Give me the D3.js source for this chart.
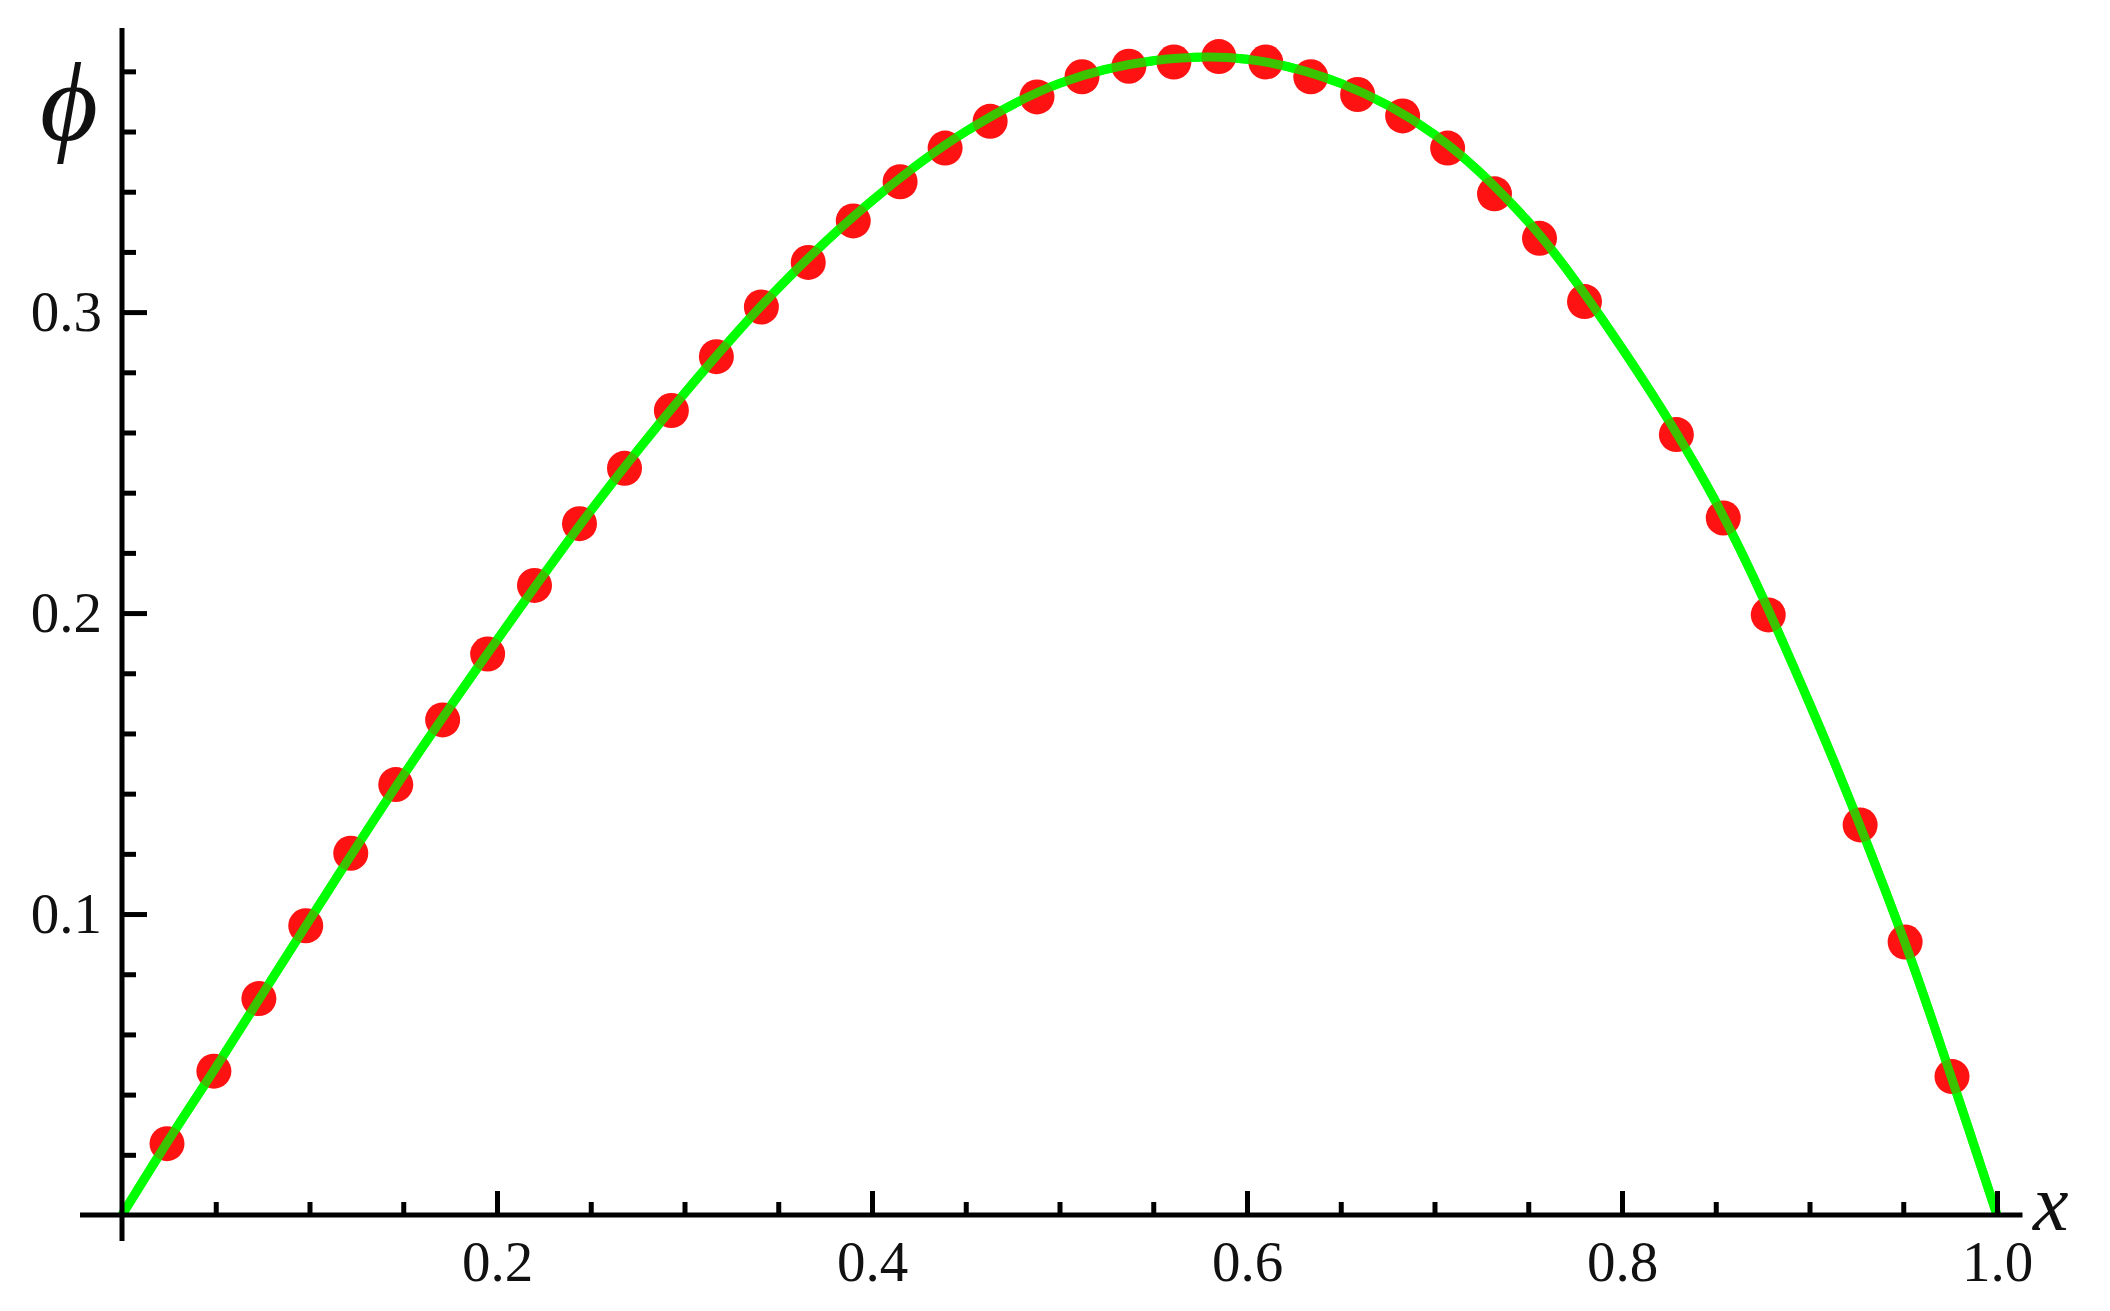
<!DOCTYPE html>
<html>
<head>
<meta charset="utf-8">
<script src="https://cdn.jsdelivr.net/npm/d3@7"></script>
<style>
  html, body { margin: 0; padding: 0; background: #fff; }
  .tick text { font-family: "Liberation Serif", "DejaVu Serif", serif; }
</style>
</head>
<body>
<svg class="chart"></svg>
<script>
// sampled values (red dots)
var pointX = [0.024, 0.049, 0.073, 0.098, 0.122, 0.146, 0.171, 0.195, 0.220, 0.244,
  0.268, 0.293, 0.317, 0.341, 0.366, 0.390, 0.415, 0.439, 0.463, 0.488,
  0.512, 0.537, 0.561, 0.585, 0.610, 0.634, 0.659, 0.683, 0.707, 0.732,
  0.756, 0.780, 0.829, 0.854, 0.878, 0.927, 0.951, 0.976];
var pointY = [0.0237, 0.0478, 0.0719, 0.0961, 0.1202, 0.1430, 0.1645, 0.1864, 0.2092, 0.2297,
  0.2481, 0.2673, 0.2852, 0.3017, 0.3165, 0.3303, 0.3433, 0.3545, 0.3634, 0.3715,
  0.3782, 0.3817, 0.3831, 0.3849, 0.3831, 0.3782, 0.3723, 0.3652, 0.3545, 0.3393,
  0.3245, 0.3035, 0.2593, 0.2316, 0.1994, 0.1296, 0.0907, 0.0460];

// green curve
var curveX = [0, 0.025, 0.05, 0.1, 0.15, 0.2, 0.25, 0.3, 0.35, 0.4, 0.45, 0.5,
  0.55, 0.6, 0.65, 0.7, 0.75, 0.8, 0.85, 0.9, 0.95, 0.975, 1];
var curveY = [0, 0.025, 0.049, 0.098, 0.146, 0.191, 0.234, 0.273, 0.308, 0.337, 0.360, 0.376,
  0.3835, 0.384, 0.376, 0.359, 0.330, 0.288, 0.237, 0.170, 0.092, 0.047, 0];

var xMajor = [0.2, 0.4, 0.6, 0.8, 1.0];
var xMinor = [0.05, 0.1, 0.15, 0.25, 0.3, 0.35, 0.45, 0.5, 0.55, 0.65, 0.7, 0.75, 0.85, 0.9, 0.95];
var yMajor = [0.1, 0.2, 0.3];
var yMinor = [0.02, 0.04, 0.06, 0.08, 0.12, 0.14, 0.16, 0.18, 0.22, 0.24, 0.26, 0.28,
  0.32, 0.34, 0.36, 0.38];

var width = 2110,
  height = 1311;

var svg = d3.select(".chart")
  .attr("width", width)
  .attr("height", height);

var xScale = d3.scaleLinear().domain([0, 1]).range([122, 1997]);
var yScale = d3.scaleLinear().domain([0, 0.3944]).range([1215, 28]);

// curve
var line = d3.line()
  .x(function(d) { return xScale(d[0]); })
  .y(function(d) { return yScale(d[1]); })
  .curve(d3.curveCatmullRom);

svg.append("path")
  .datum(d3.zip(curveX, curveY))
  .attr("d", line)
  .attr("fill", "none")
  .attr("stroke", "#00ff00")
  .attr("stroke-width", 9);

// dots
svg.selectAll("circle.dot")
  .data(d3.zip(pointX, pointY))
  .enter()
  .append("circle")
  .attr("class", "dot")
  .attr("cx", function(d) { return xScale(d[0]); })
  .attr("cy", function(d) { return yScale(d[1]); })
  .attr("r", 17.5)
  .attr("fill", "#ff0000")
  .attr("fill-opacity", 0.93);

// the green line sits on top of the dots
svg.append("path")
  .datum(d3.zip(curveX, curveY))
  .attr("d", line)
  .attr("fill", "none")
  .attr("stroke", "#00ff00")
  .attr("stroke-opacity", 0.75)
  .attr("stroke-width", 9);

// axes: ticks point inward, labels outside
var xAxisMajor = svg.append("g")
  .attr("transform", "translate(0," + yScale(0) + ")")
  .call(d3.axisBottom(xScale).tickValues(xMajor).tickSize(-24).tickPadding(30)
    .tickFormat(d3.format(".1f")));
var xAxisMinor = svg.append("g")
  .attr("transform", "translate(0," + yScale(0) + ")")
  .call(d3.axisBottom(xScale).tickValues(xMinor).tickSize(-13).tickFormat(""));

var yAxisMajor = svg.append("g")
  .attr("transform", "translate(" + xScale(0) + ",0)")
  .call(d3.axisLeft(yScale).tickValues(yMajor).tickSize(-25).tickPadding(20)
    .tickFormat(d3.format(".1f")));
var yAxisMinor = svg.append("g")
  .attr("transform", "translate(" + xScale(0) + ",0)")
  .call(d3.axisLeft(yScale).tickValues(yMinor).tickSize(-14).tickFormat(""));

svg.selectAll(".domain").remove();
svg.selectAll(".tick line").attr("stroke", "#000").attr("stroke-width", 5);
svg.selectAll(".tick text")
  .attr("fill", "#111")
  .style("font-size", "57px");
xAxisMajor.selectAll(".tick text").attr("dy", "0.63em");
yAxisMajor.selectAll(".tick text").attr("dy", "0.33em");

// axis lines run past the origin
svg.append("line")
  .attr("x1", xScale(-0.0224)).attr("x2", xScale(1.0136))
  .attr("y1", yScale(0)).attr("y2", yScale(0))
  .attr("stroke", "#000").attr("stroke-width", 5);
svg.append("line")
  .attr("x1", xScale(0)).attr("x2", xScale(0))
  .attr("y1", yScale(-0.0086)).attr("y2", yScale(0.3944))
  .attr("stroke", "#000").attr("stroke-width", 5);

// axis names
svg.append("text")
  .attr("x", 2033)
  .attr("y", 1230)
  .attr("font-family", "Liberation Serif, DejaVu Serif, serif")
  .attr("font-style", "italic")
  .attr("font-size", 80)
  .attr("fill", "#111")
  .text("x");
svg.append("text")
  .attr("x", 40)
  .attr("y", 140)
  .attr("font-family", "Liberation Serif, DejaVu Serif, serif")
  .attr("font-style", "italic")
  .attr("font-size", 112)
  .attr("fill", "#111")
  .text("\u03d5");
</script>
</body>
</html>
